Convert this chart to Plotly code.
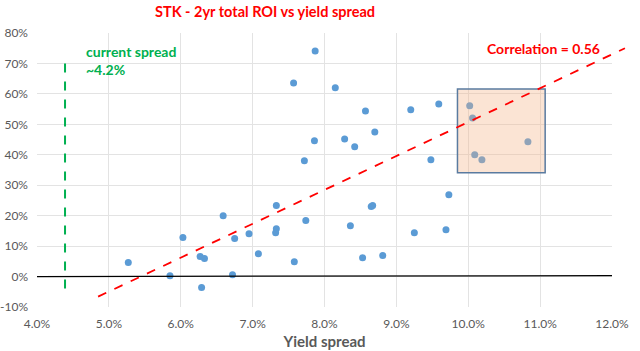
import plotly.graph_objects as go

# Data (yield spread %, 2yr total ROI %)
spread = [5.27, 5.85, 6.03, 6.27, 6.33, 6.29, 6.59, 6.75, 6.72, 6.95,
          7.08, 7.33, 7.33, 7.32, 7.58, 7.74, 8.36, 8.53, 8.65, 8.67,
          8.81, 9.25, 7.87, 7.57, 8.15, 8.57, 9.20, 7.86, 8.28, 8.42,
          8.70, 7.72, 9.59, 10.02, 10.06, 10.09, 10.19, 10.83, 9.48, 9.73,
          9.69]
roi = [4.6, 0.3, 12.8, 6.6, 5.9, -3.6, 20.0, 12.5, 0.6, 14.1,
       7.5, 23.3, 15.7, 14.4, 4.9, 18.4, 16.7, 6.2, 23.0, 23.3,
       6.9, 14.4, 74.1, 63.6, 62.0, 54.4, 54.8, 44.6, 45.2, 42.6,
       47.5, 38.0, 56.7, 56.1, 52.1, 40.0, 38.4, 44.3, 38.4, 26.9,
       15.4]

trend_x = [4.85, 12.18]
trend_y = [-6.6, 75.0]
current_x = [4.39, 4.39]
current_y = [70.0, -6.0]
zero_x = [4.0, 12.0]
zero_y = [0.0, 0.3]
box_x = [9.85, 11.07]
box_y = [34.1, 61.6]

x_ticks = [4, 5, 6, 7, 8, 9, 10, 11, 12]
x_ticktext = ["4.0%", "5.0%", "6.0%", "7.0%", "8.0%", "9.0%", "10.0%", "11.0%", "12.0%"]
y_ticks = [-10, 0, 10, 20, 30, 40, 50, 60, 70, 80]
y_ticktext = ["-10%", "0%", "10%", "20%", "30%", "40%", "50%", "60%", "70%", "80%"]

XR = [4, 12]
YR = [-10, 80]
W, H = 640, 351
ML, MR, MT, MB = 37, 28, 33, 44

def px(v):
    return (v - XR[0]) / (XR[1] - XR[0])

def py(v):
    return (v - YR[0]) / (YR[1] - YR[0])

fig = go.Figure()

fig.add_trace(go.Scatter(x=spread, y=roi, mode="markers",
                         marker=dict(color="#5B9BD5", size=7),
                         showlegend=False, hoverinfo="skip"))

FONT = "Lato"
shapes = [
    dict(type="line", xref="x", yref="y", x0=zero_x[0], x1=zero_x[1], y0=zero_y[0], y1=zero_y[1],
         line=dict(color="#000000", width=1.2), layer="above"),
    dict(type="line", xref="x", yref="y", x0=current_x[0], x1=current_x[1], y0=current_y[0], y1=current_y[1],
         line=dict(color="#00B050", width=2, dash="dash"), layer="above"),
    dict(type="rect", xref="x", yref="y", x0=box_x[0], x1=box_x[1], y0=box_y[0], y1=box_y[1],
         fillcolor="rgba(244,177,131,0.35)", line=dict(color="#5A7BA0", width=1.5), layer="above"),
    dict(type="line", xref="paper", yref="paper", x0=px(trend_x[0]), x1=px(trend_x[1]),
         y0=py(trend_y[0]), y1=py(trend_y[1]),
         line=dict(color="#FF0000", width=1.8, dash="dash"), layer="above"),
]

annotations = [
    dict(text="STK - 2yr total ROI vs yield spread", xref="paper", yref="paper",
         x=(265 - ML) / (W - ML - MR), y=1 + (MT - 12) / (H - MT - MB), xanchor="center", yanchor="middle",
         showarrow=False, font=dict(family=FONT, size=14.5, color="#FF0000", weight="bold")),
    dict(text="current spread<br>~4.2%", xref="x", yref="y", x=4.65, y=77.5, xanchor="left", yanchor="top",
         align="left", showarrow=False,
         font=dict(family=FONT, size=14, color="#00B050", weight="bold")),
    dict(text="Correlation = 0.56", xref="x", yref="y", x=11.05, y=75, xanchor="center", yanchor="middle",
         showarrow=False, font=dict(family=FONT, size=14, color="#FF0000", weight="bold")),
]

fig.update_layout(
    width=W, height=H,
    margin=dict(l=ML, r=MR, t=MT, b=MB, autoexpand=False),
    paper_bgcolor="white", plot_bgcolor="white",
    shapes=shapes, annotations=annotations,
    font=dict(family=FONT, color="#595959"),
    xaxis=dict(range=XR, tickvals=x_ticks, ticktext=x_ticktext, showgrid=True,
               gridcolor="#E3E3E3", zeroline=False, showline=False, ticks="",
               ticklabelstandoff=8, automargin=False,
               tickfont=dict(size=12, color="#595959"),
               title=dict(text="Yield spread", font=dict(size=15, color="#595959", weight="bold"), standoff=6)),
    yaxis=dict(range=YR, tickvals=y_ticks, ticktext=y_ticktext, showgrid=True,
               gridcolor="#E3E3E3", zeroline=False, showline=False, ticks="",
               ticklabelstandoff=8, automargin=False,
               tickfont=dict(size=12, color="#595959")),
)

fig.write_html("out.html")
